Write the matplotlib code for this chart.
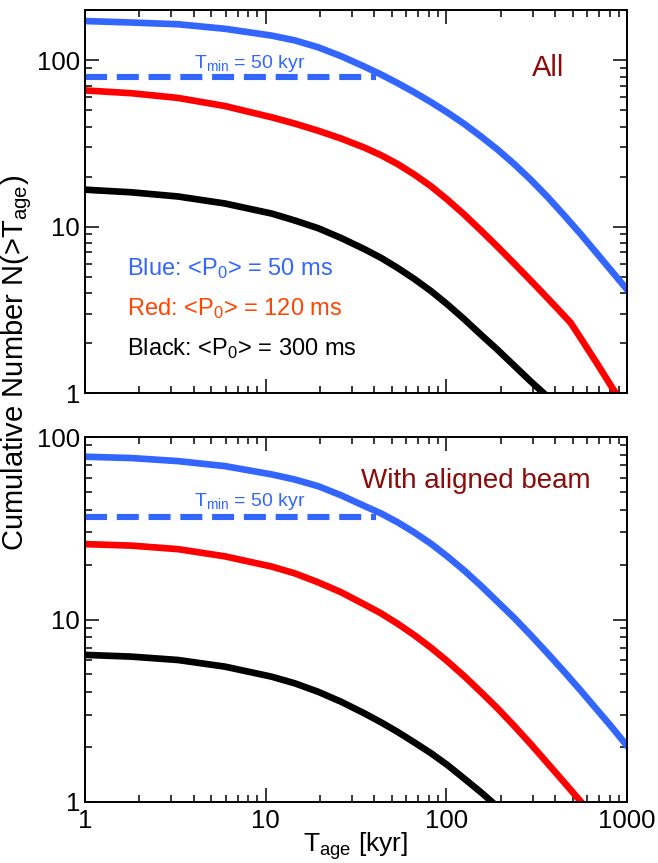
import matplotlib
matplotlib.use("Agg")
import matplotlib.pyplot as plt

plt.rcParams['font.family'] = ['Liberation Sans', 'DejaVu Sans']
plt.rcParams['mathtext.fontset'] = 'custom'
plt.rcParams['mathtext.rm'] = 'Liberation Sans'
plt.rcParams['mathtext.it'] = 'Liberation Sans:italic'

t_read = [1, 1.81, 3.27, 5.94, 10.8, 14.5, 19.5, 26.2, 35.2, 43.6, 53.8, 66.5, 82.3,
          101.7, 126, 155.5, 192, 237.5, 294, 363, 449, 555, 686, 813, 1000]

# top panel: all pulsars
all_blue_t = t_read
all_blue_n = [172.5, 169, 165, 155, 141, 132, 120, 106, 91.8, 82.2, 73.0, 64.3, 56.1,
              48.5, 41.4, 34.9, 29.1, 23.8, 19.1, 15.1, 11.7, 9.0, 6.84, 5.48, 4.19]
all_red_t = [1, 1.81, 3.27, 5.94, 10.8, 14.5, 19.5, 26.2, 35.2, 43.6, 53.8, 66.5, 82.3,
             101.7, 126, 155.5, 192, 237.5, 294, 363, 449, 488, 555, 686, 813, 865]
all_red_n = [66, 63.5, 59.5, 53.2, 45.5, 41.7, 37.8, 33.9, 29.9, 26.9, 23.8, 20.6, 17.5,
             14.5, 11.8, 9.49, 7.58, 6.0, 4.73, 3.72, 2.91, 2.64, 2.13, 1.49, 1.11, 1.0]
all_black_t = [1, 1.81, 3.27, 5.94, 10.8, 14.5, 19.5, 26.2, 35.2, 43.6, 53.8, 66.5, 82.3,
               101.7, 126, 155.5, 192, 237.5, 294, 345]
all_black_n = [16.7, 16.1, 15.2, 13.8, 12.0, 10.9, 9.8, 8.55, 7.33, 6.49, 5.65, 4.85, 4.1,
               3.40, 2.77, 2.24, 1.82, 1.46, 1.17, 1.0]
all_tmin_t = [1, 41]
all_tmin_n = [79, 79]

# bottom panel: with aligned beam
beam_blue_t = t_read
beam_blue_n = [78, 76.7, 73.8, 69.3, 62.4, 58.5, 53.8, 47.9, 41.9, 38.1, 34.1, 30.0, 26.0,
               22.1, 18.5, 15.3, 12.5, 10.2, 8.18, 6.53, 5.17, 4.07, 3.18, 2.61, 2.03]
beam_red_t = [1, 1.81, 3.27, 5.94, 10.8, 14.5, 19.5, 26.2, 35.2, 43.6, 53.8, 66.5, 82.3,
              101.7, 126, 155.5, 192, 237.5, 294, 363, 449, 557]
beam_red_n = [25.9, 25.4, 24.3, 22.2, 19.5, 17.9, 16.0, 14.1, 12.1, 10.8, 9.48, 8.21, 7.0,
              5.89, 4.88, 4.0, 3.26, 2.61, 2.07, 1.63, 1.28, 1.0]
beam_black_t = [1, 1.81, 3.27, 5.94, 10.8, 14.5, 19.5, 26.2, 35.2, 43.6, 53.8, 66.5, 82.3,
                101.7, 126, 155.5, 179]
beam_black_n = [6.4, 6.26, 6.0, 5.52, 4.86, 4.47, 4.02, 3.54, 3.06, 2.73, 2.42, 2.12, 1.85,
                1.59, 1.34, 1.13, 1.0]
beam_tmin_t = [1, 41]
beam_tmin_n = [36.3, 36.3]

legend_texts = ['Blue: <P$_{\\mathrm{0}}$> = 50 ms',
                'Red: <P$_{\\mathrm{0}}$> = 120 ms',
                'Black: <P$_{\\mathrm{0}}$> = 300 ms']

blue = '#3366ff'
red = '#ff0000'
dark_red = '#8b0a0a'
lw = 4.8

fig = plt.figure(figsize=(6.58, 8.63), dpi=100)
ax1 = fig.add_axes([0.129, 0.5446, 0.824, 0.4434])
ax2 = fig.add_axes([0.129, 0.0707, 0.824, 0.4229])


def style(ax, ymax, xlabels):
    ax.set_xscale('log')
    ax.set_yscale('log')
    ax.set_xlim(1, 1000)
    ax.set_ylim(1, ymax)
    ax.set_xticks([1, 10, 100, 1000])
    ax.set_yticks([1, 10, 100])
    ax.set_yticklabels(['1', '10', '100'])
    if xlabels:
        ax.set_xticklabels(['1', '10', '100', '1000'])
    else:
        ax.set_xticklabels([])
    ax.tick_params(which='both', direction='in', top=True, right=True, width=1.1, labelsize=18.5)
    ax.tick_params(which='major', length=10)
    ax.tick_params(which='minor', length=5)
    ax.tick_params(axis='x', pad=5)
    for s in ax.spines.values():
        s.set_linewidth(1.4)


style(ax1, 200, False)
style(ax2, 100, True)

ax1.plot(all_blue_t, all_blue_n, color=blue, lw=lw, solid_joinstyle='round')
ax1.plot(all_red_t, all_red_n, color=red, lw=lw, solid_joinstyle='round')
ax1.plot(all_black_t, all_black_n, color='black', lw=lw, solid_joinstyle='round')
ax1.plot(all_tmin_t, all_tmin_n, color=blue, lw=4.4, dashes=(3.6, 1.6))
ax1.text(8.2, 90, 'T$_{\\mathrm{min}}$ = 50 kyr', color=blue, fontsize=14, ha='center', va='baseline')
ax1.text(0.854, 0.828, 'All', color=dark_red, fontsize=21, ha='center', va='baseline',
         transform=ax1.transAxes)
ax1.text(0.0775, 0.308, legend_texts[0], color=blue, fontsize=17, transform=ax1.transAxes)
ax1.text(0.0775, 0.204, legend_texts[1], color='#ff4500', fontsize=17, transform=ax1.transAxes)
ax1.text(0.0775, 0.099, legend_texts[2], color='black', fontsize=17, transform=ax1.transAxes)

ax2.plot(beam_blue_t, beam_blue_n, color=blue, lw=lw, solid_joinstyle='round')
ax2.plot(beam_red_t, beam_red_n, color=red, lw=lw, solid_joinstyle='round')
ax2.plot(beam_black_t, beam_black_n, color='black', lw=lw, solid_joinstyle='round')
ax2.plot(beam_tmin_t, beam_tmin_n, color=blue, lw=4.4, dashes=(3.6, 1.6))
ax2.text(8.2, 41.8, 'T$_{\\mathrm{min}}$ = 50 kyr', color=blue, fontsize=14, ha='center', va='baseline')
ax2.text(0.721, 0.860, 'With aligned beam', color=dark_red, fontsize=20, ha='center', va='baseline',
         transform=ax2.transAxes)
ax2.set_xlabel('T$_{\\mathrm{age}}$ [kyr]', fontsize=19, labelpad=-2)

fig.text(0.026, 0.579, 'Cumulative Number N(>T$_{\\mathrm{age}}$)', rotation=90, fontsize=21,
         ha='center', va='center')

plt.savefig('out.png', dpi=100)
